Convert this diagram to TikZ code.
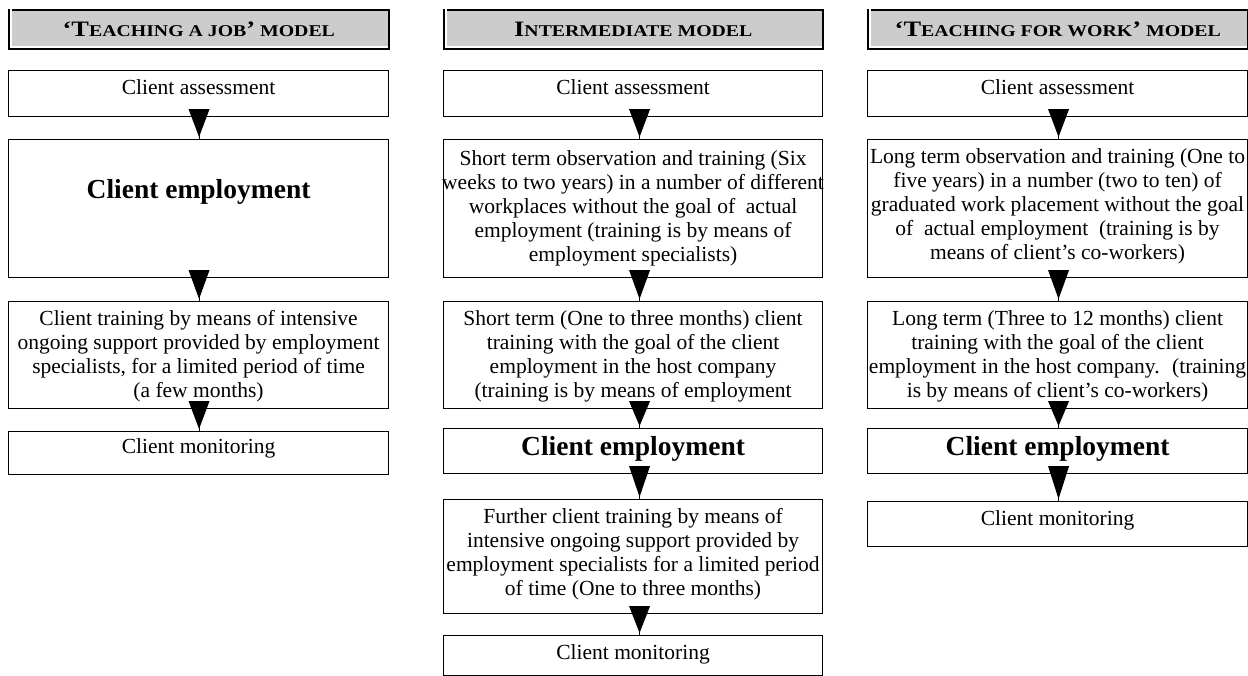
\documentclass[tikz,border=0pt]{standalone}
\usepackage{fontspec}
\usepackage{graphicx}
\setmainfont{Liberation Serif}
\usetikzlibrary{calc}
\definecolor{hdrgray}{HTML}{CCCCCC}
\newcommand\hbig[1]{{\fontsize{22pt}{22pt}\selectfont #1}}
\newcommand\hsm[1]{{\fontsize{16.5pt}{16.5pt}\selectfont #1}}
\newcommand\hwide[1]{\scalebox{1.2}[1]{#1}}
\newcommand\flowarrow[3]{%
  \draw[conn] ([xshift=#3]#1.south) -- ([xshift=#3]#2.north);
  \fill ([xshift=#3-10.5pt,yshift=8pt]#1.south) -- ([xshift=#3+10.5pt,yshift=8pt]#1.south) -- ([xshift=#3,yshift=2pt]#2.north) -- cycle;}
\tikzset{
  box/.style={draw, line width=1.1pt, inner sep=0pt, anchor=north west},
  hdr/.style={draw, line width=1.6pt, fill=hdrgray, inner sep=0pt, anchor=north west, minimum height=39pt, font=\bfseries},
  htxt/.style={font=\bfseries, anchor=base, inner sep=0pt},
  txt/.style={inner sep=0pt, align=center, anchor=north, font=\fontsize{21.5pt}{24pt}\selectfont},
  btxt/.style={inner sep=0pt, align=center, anchor=north, font=\fontsize{27.5pt}{30pt}\selectfont\bfseries},
  conn/.style={line width=0.8pt}
}
\newcommand\rs{\rule{0pt}{20pt}}
\begin{document}
\begin{tikzpicture}[x=1pt,y=-1pt]
\useasboundingbox (0,0) rectangle (1248,676);
% headers
\node[hdr, minimum width=380pt] (H1) at (8,9) {};
\node[hdr, minimum width=379pt] (H2) at (443,9) {};
\node[hdr, minimum width=380pt] (H3) at (867,9) {};
\foreach \h in {H1,H2,H3}{
  \draw[white, line width=1.6pt] ([xshift=2.8pt,yshift=4pt]\h.north west) -- ([xshift=2.8pt,yshift=2.8pt]\h.south west) -- ([xshift=-2pt,yshift=2.8pt]\h.south east);
}
\node[htxt] (H1t) at ([yshift=-27.5pt]H1.north) {\hwide{\hbig{‘T}\hsm{EACHING A JOB}\hbig{’}\hsm{~MODEL}}};
\node[htxt] (H2t) at ([yshift=-27.5pt]H2.north) {\hwide{\hbig{I}\hsm{NTERMEDIATE MODEL}}};
\node[htxt] (H3t) at ([yshift=-27.5pt]H3.north) {\hwide{\hbig{‘T}\hsm{EACHING FOR WORK}\hbig{’}\hsm{~MODEL}}};

% column 1
\node[box, minimum width=380pt, minimum height=46pt] (A1) at (8,70) {};
\node[box, minimum width=380pt, minimum height=138pt] (A2) at (8,139) {};
\node[box, minimum width=380pt, minimum height=107pt] (A3) at (8,301) {};
\node[box, minimum width=380pt, minimum height=43pt] (A4) at (8,431) {};
\node[txt] (A1t) at ([yshift=-4pt]A1.north) {\rs Client assessment};
\node[btxt] (A2t) at ([yshift=-39pt]A2.north) {\rs Client employment};
\node[txt] (A3t) at ([yshift=-4pt]A3.north) {\rs Client training by means of intensive\\ongoing support provided by employment\\specialists, for a limited period of time\\(a few months)};
\node[txt] (A4t) at ([yshift=-2pt]A4.north) {\rs Client monitoring};

% column 2
\node[box, minimum width=379pt, minimum height=46pt] (B1) at (443,70) {};
\node[box, minimum width=379pt, minimum height=138pt] (B2) at (443,139) {};
\node[box, minimum width=379pt, minimum height=107pt] (B3) at (443,301) {};
\node[box, minimum width=379pt, minimum height=45pt] (B4) at (443,428) {};
\node[box, minimum width=379pt, minimum height=114pt] (B5) at (443,499) {};
\node[box, minimum width=379pt, minimum height=40pt] (B6) at (443,635) {};
\node[txt] (B1t) at ([yshift=-4pt]B1.north) {\rs Client assessment};
\node[txt] (B2t) at ([yshift=-6pt]B2.north) {\rs Short term observation and training (Six\\weeks to two years) in a number of different\\workplaces without the goal of~ actual\\employment (training is by means of\\employment specialists)};
\node[txt] (B3t) at ([yshift=-4pt]B3.north) {\rs Short term (One to three months) client\\training with the goal of the client\\employment in the host company\\(training is by means of employment};
\node[btxt] (B4t) at ([yshift=-7pt]B4.north) {\rs Client employment};
\node[txt] (B5t) at ([yshift=-4pt]B5.north) {\rs Further client training by means of\\intensive ongoing support provided by\\employment specialists for a limited period\\of time (One to three months)};
\node[txt] (B6t) at ([yshift=-4pt]B6.north) {\rs Client monitoring};

% column 3
\node[box, minimum width=380pt, minimum height=46pt] (C1) at (867,70) {};
\node[box, minimum width=380pt, minimum height=138pt] (C2) at (867,139) {};
\node[box, minimum width=380pt, minimum height=107pt] (C3) at (867,301) {};
\node[box, minimum width=380pt, minimum height=45pt] (C4) at (867,428) {};
\node[box, minimum width=380pt, minimum height=45pt] (C5) at (867,501) {};
\node[txt] (C1t) at ([yshift=-4pt]C1.north) {\rs Client assessment};
\node[txt] (C2t) at ([yshift=-4pt]C2.north) {\rs Long term observation and training (One to\\five years) in a number (two to ten) of\\graduated work placement without the goal\\of~ actual employment~ (training is by\\means of client’s co-workers)};
\node[txt] (C3t) at ([yshift=-4pt]C3.north) {\rs Long term (Three to 12 months) client\\training with the goal of the client\\employment in the host company.~ (training\\is by means of client’s co-workers)};
\node[btxt] (C4t) at ([yshift=-7pt]C4.north) {\rs Client employment};
\node[txt] (C5t) at ([yshift=-4pt]C5.north) {\rs Client monitoring};

% arrows
\flowarrow{A1}{A2}{0.5pt}
\flowarrow{A2}{A3}{0.5pt}
\flowarrow{A3}{A4}{0.5pt}
\flowarrow{B1}{B2}{6.5pt}
\flowarrow{B2}{B3}{6.5pt}
\flowarrow{B3}{B4}{6.5pt}
\flowarrow{B4}{B5}{6.5pt}
\flowarrow{B5}{B6}{6.5pt}
\flowarrow{C1}{C2}{1pt}
\flowarrow{C2}{C3}{1pt}
\flowarrow{C3}{C4}{1pt}
\flowarrow{C4}{C5}{1pt}
\end{tikzpicture}
\end{document}
